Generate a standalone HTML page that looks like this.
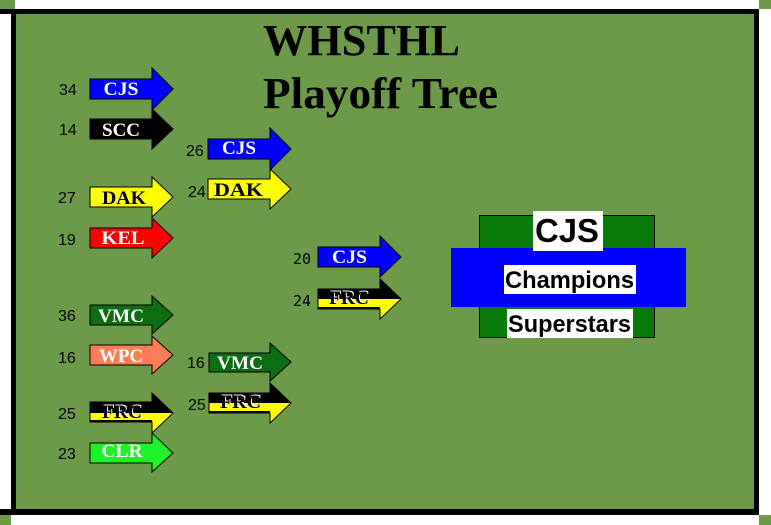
<!DOCTYPE html>
<html>
<head>
<meta charset="utf-8">
<style>
html,body{margin:0;padding:0;background:#fff;}
svg{display:block;}
.num{font-family:"Liberation Sans",Arial,sans-serif;font-size:16px;fill:#000;}
.mono{font-family:"DejaVu Sans Mono","Liberation Mono",monospace;font-size:15px;fill:#000;}
.team{font-family:"Liberation Serif","Times New Roman",serif;font-weight:bold;font-size:19px;text-anchor:middle;}
.champ{font-family:"Liberation Sans",Arial,sans-serif;font-weight:bold;text-anchor:middle;fill:#000;}
</style>
</head>
<body>
<svg width="771" height="525" viewBox="0 0 771 525" xmlns="http://www.w3.org/2000/svg">
<defs>
<linearGradient id="frc1" x1="0" y1="393" x2="0" y2="433" gradientUnits="userSpaceOnUse">
<stop offset="0" stop-color="#000"/><stop offset="0.5" stop-color="#000"/><stop offset="0.5" stop-color="#ffff00"/><stop offset="1" stop-color="#ffff00"/>
</linearGradient>
<linearGradient id="frc2" x1="0" y1="383" x2="0" y2="423" gradientUnits="userSpaceOnUse">
<stop offset="0" stop-color="#000"/><stop offset="0.5" stop-color="#000"/><stop offset="0.5" stop-color="#ffff00"/><stop offset="1" stop-color="#ffff00"/>
</linearGradient>
<linearGradient id="frc3" x1="0" y1="279" x2="0" y2="319" gradientUnits="userSpaceOnUse">
<stop offset="0" stop-color="#000"/><stop offset="0.5" stop-color="#000"/><stop offset="0.5" stop-color="#ffff00"/><stop offset="1" stop-color="#ffff00"/>
</linearGradient>
</defs>

<!-- frame -->
<rect x="0" y="0" width="771" height="525" fill="#fff"/>
<rect x="0" y="0" width="15" height="9" fill="#6d9a48"/>
<rect x="759" y="0" width="12" height="9" fill="#6d9a48"/>
<rect x="0" y="515" width="11" height="10" fill="#6d9a48"/>
<rect x="759" y="515" width="12" height="10" fill="#6d9a48"/>
<rect x="16" y="14" width="738" height="495" fill="#6d9a48"/>
<rect x="0" y="9" width="759" height="5" fill="#000"/>
<rect x="0" y="509" width="759" height="6" fill="#000"/>
<rect x="11" y="9" width="5" height="506" fill="#000"/>
<rect x="754" y="9" width="5" height="506" fill="#000"/>

<!-- title -->
<text x="263" y="55" font-family="'Liberation Serif','Times New Roman',serif" font-weight="bold" font-size="44" textLength="197" lengthAdjust="spacingAndGlyphs" fill="#000">WHSTHL</text>
<text x="263" y="108" font-family="'Liberation Serif','Times New Roman',serif" font-weight="bold" font-size="44" textLength="235" lengthAdjust="spacingAndGlyphs" fill="#000">Playoff Tree</text>

<!-- Round 1 arrows -->
<g stroke="#000" stroke-width="1">
<polygon points="90,79 152,79 152,68 173,89 152,110 152,99 90,99" fill="#0000ff"/>
<polygon points="90,119 152,119 152,109 173,129 152,149 152,139 90,139" fill="#000"/>
<polygon points="90,187 152,187 152,177 173,197 152,217 152,207 90,207" fill="#ffff00"/>
<polygon points="90,228 152,228 152,218 173,238 152,258 152,248 90,248" fill="#ff0000"/>
<polygon points="90,305 152,305 152,296 173,315 152,334 152,325 90,325" fill="#0d6d12"/>
<polygon points="90,345 152,345 152,336 173,355 152,374 152,365 90,365" fill="#fa7d55"/>
<polygon points="90,402 152,402 152,393 173,413 152,433 152,422 90,422" fill="url(#frc1)"/>
<polygon points="90,443 152,443 152,433 173,453 152,472 152,463 90,463" fill="#1ef02a"/>
</g>
<rect x="90" y="420" width="62" height="2" fill="#000"/>

<!-- Round 2 arrows -->
<g stroke="#000" stroke-width="1">
<polygon points="208,139 270,139 270,128 291,149 270,170 270,159 208,159" fill="#0000ff"/>
<polygon points="208,179 270,179 270,169 291,189 270,209 270,199 208,199" fill="#ffff00"/>
<polygon points="209,353 270,353 270,343 291,362 270,381 270,372 209,372" fill="#0d6d12"/>
<polygon points="209,393 270,393 270,383 291,403 270,423 270,413 209,413" fill="url(#frc2)"/>
</g>
<rect x="209" y="411" width="61" height="2" fill="#000"/>

<!-- Round 3 arrows -->
<g stroke="#000" stroke-width="1">
<polygon points="318,247 380,247 380,236 401,257 380,277 380,267 318,267" fill="#0000ff"/>
<polygon points="318,289 380,289 380,279 401,299 380,319 380,309 318,309" fill="url(#frc3)"/>
</g>
<rect x="318" y="307" width="62" height="2" fill="#000"/>

<!-- team labels round 1 -->
<text class="team" x="121" y="95" fill="#fff" textLength="35" lengthAdjust="spacingAndGlyphs">CJS</text>
<text class="team" x="121" y="136" fill="#fff" textLength="38" lengthAdjust="spacingAndGlyphs">SCC</text>
<text class="team" x="124" y="204" fill="#000" textLength="44" lengthAdjust="spacingAndGlyphs">DAK</text>
<text class="team" x="123" y="244" fill="#fff" textLength="43" lengthAdjust="spacingAndGlyphs">KEL</text>
<text class="team" x="121" y="322" fill="#fff" textLength="46" lengthAdjust="spacingAndGlyphs">VMC</text>
<text class="team" x="121" y="362" fill="#fff" textLength="44" lengthAdjust="spacingAndGlyphs">WPC</text>
<text class="team" x="123" y="417" fill="#fff" textLength="40" lengthAdjust="spacingAndGlyphs">FRC</text>
<text class="team" x="122" y="418" fill="#000" textLength="40" lengthAdjust="spacingAndGlyphs">FRC</text>
<text class="team" x="122" y="457" fill="#fff" textLength="41" lengthAdjust="spacingAndGlyphs">CLR</text>

<!-- team labels round 2 -->
<text class="team" x="239" y="154" fill="#fff" textLength="34" lengthAdjust="spacingAndGlyphs">CJS</text>
<text class="team" x="238.5" y="196" fill="#000" textLength="49" lengthAdjust="spacingAndGlyphs">DAK</text>
<text class="team" x="240" y="369" fill="#fff" textLength="46" lengthAdjust="spacingAndGlyphs">VMC</text>
<text class="team" x="241.5" y="407" fill="#fff" textLength="41" lengthAdjust="spacingAndGlyphs">FRC</text>
<text class="team" x="240.5" y="408" fill="#000" textLength="41" lengthAdjust="spacingAndGlyphs">FRC</text>

<!-- team labels round 3 -->
<text class="team" x="349.5" y="263" fill="#fff" textLength="35" lengthAdjust="spacingAndGlyphs">CJS</text>
<text class="team" x="350" y="303" fill="#fff" textLength="40" lengthAdjust="spacingAndGlyphs">FRC</text>
<text class="team" x="349" y="304" fill="#000" textLength="40" lengthAdjust="spacingAndGlyphs">FRC</text>

<!-- scores -->
<text class="num" x="59" y="95">34</text>
<text class="num" x="59" y="135">14</text>
<text class="num" x="58" y="203">27</text>
<text class="num" x="58" y="245">19</text>
<text class="num" x="58" y="321">36</text>
<text class="num" x="58" y="363">16</text>
<text class="num" x="58" y="419">25</text>
<text class="num" x="58" y="459">23</text>

<text class="num" x="186" y="156">26</text>
<text class="num" x="188" y="197">24</text>
<text class="num" x="187" y="368">16</text>
<text class="num" x="188" y="410">25</text>

<text class="mono" x="293" y="264">20</text>
<text class="mono" x="293" y="306">24</text>

<!-- champions -->
<rect x="479.5" y="215.5" width="175" height="122" fill="#0a7a0a" stroke="#000" stroke-width="1"/>
<rect x="451" y="248" width="235" height="59" fill="#0000ff"/>
<rect x="533" y="211" width="70" height="40" fill="#fff"/>
<text class="champ" x="567" y="242" font-size="33" textLength="64" lengthAdjust="spacingAndGlyphs">CJS</text>
<rect x="504" y="265" width="132" height="29" fill="#fff"/>
<text class="champ" x="569.5" y="288" font-size="24" textLength="129" lengthAdjust="spacingAndGlyphs">Champions</text>
<rect x="507" y="309" width="126" height="29" fill="#fff"/>
<text class="champ" x="569.5" y="332" font-size="24" textLength="123" lengthAdjust="spacingAndGlyphs">Superstars</text>
</svg>
</body>
</html>
